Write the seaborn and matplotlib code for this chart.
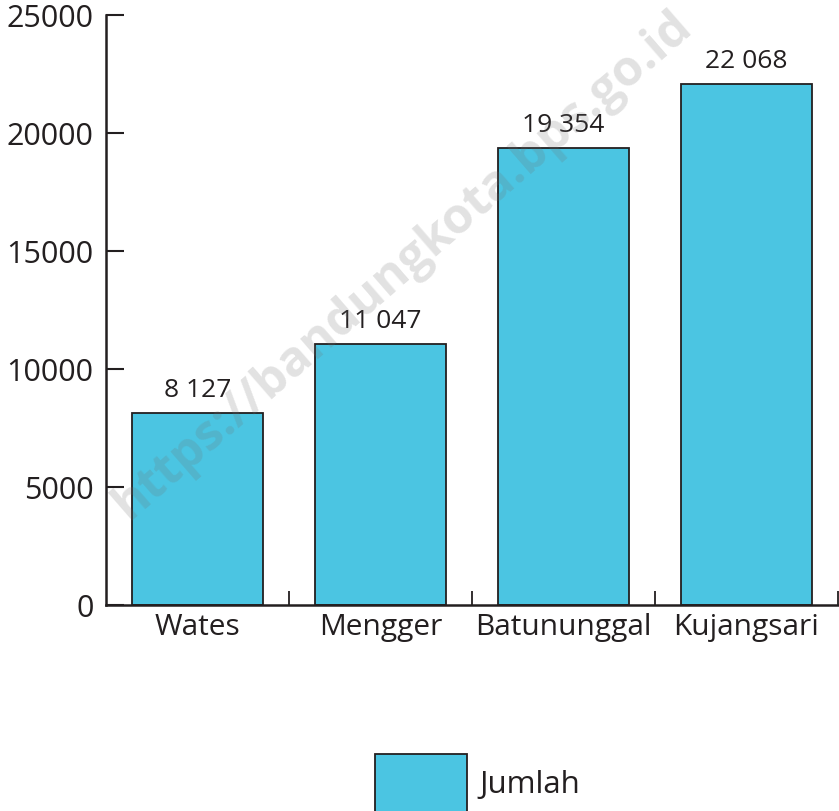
import numpy as np
import pandas as pd
import seaborn as sns
import matplotlib.pyplot as plt

kecamatan = ['Wates', 'Mengger', 'Batununggal', 'Kujangsari']
jumlah = [8127, 11047, 19354, 22068]
yticks = [0, 5000, 10000, 15000, 20000, 25000]

bar_color = '#4bc5e2'
ink = '#231f20'

sns.set_style('white')
plt.rcParams['font.family'] = ['Open Sans', 'DejaVu Sans']

df = pd.DataFrame({'kecamatan': kecamatan, 'jumlah': jumlah})

fig = plt.figure(figsize=(8.39, 8.11), dpi=100)
ax = fig.add_axes([0.1263, 0.254, 0.8725, 0.7275])

sns.barplot(data=df, x='kecamatan', y='jumlah', color=bar_color,
            edgecolor=ink, linewidth=1.3, width=0.72, saturation=1,
            label='Jumlah', ax=ax)
h, l = ax.get_legend_handles_labels()
if ax.get_legend() is not None:
    ax.get_legend().remove()

ax.set_xlim(-0.5, len(kecamatan) - 0.5)
ax.set_ylim(0, 25000)
ax.set_yticks(yticks)
ax.set_yticklabels([str(v) for v in yticks], fontsize=22, color=ink)
ax.tick_params(axis='y', left=True, direction='in', length=13, width=1.5, color=ink, pad=9)

# boundary ticks on the x axis, category names on minor ticks
ax.set_xticks(np.arange(len(kecamatan)) + 0.5)
ax.set_xticklabels([])
ax.tick_params(axis='x', which='major', bottom=True, direction='in', length=10, width=1.3, color=ink)
ax.set_xticks(np.arange(len(kecamatan)), minor=True)
ax.set_xticklabels(kecamatan, minor=True, fontsize=21.5, color=ink)
ax.tick_params(axis='x', which='minor', bottom=True, length=0, pad=6)
ax.set_xlabel('')
ax.set_ylabel('')

sns.despine(ax=ax)
for s in ['left', 'bottom']:
    ax.spines[s].set_color(ink)
    ax.spines[s].set_linewidth(1.8)

for i, v in enumerate(jumlah):
    ax.text(i, v + 420, f'{v:,}'.replace(',', ' '), ha='center', va='bottom',
            fontsize=19, color=ink)

# watermark
fig.text(0.48, 0.672, 'https://bandungkota.bps.go.id', rotation=41,
         ha='center', va='center', fontsize=35.5, fontweight='bold',
         color='#707070', alpha=0.2)

fig.legend(h[:1], l[:1], loc='upper left', bbox_to_anchor=(375 / 839, 1 - 754 / 811),
           frameon=False, fontsize=22.5, handlelength=2.95, handleheight=2.5,
           borderpad=0, borderaxespad=0, handletextpad=0.4, labelcolor=ink)

fig.savefig('out.png', dpi=100)
